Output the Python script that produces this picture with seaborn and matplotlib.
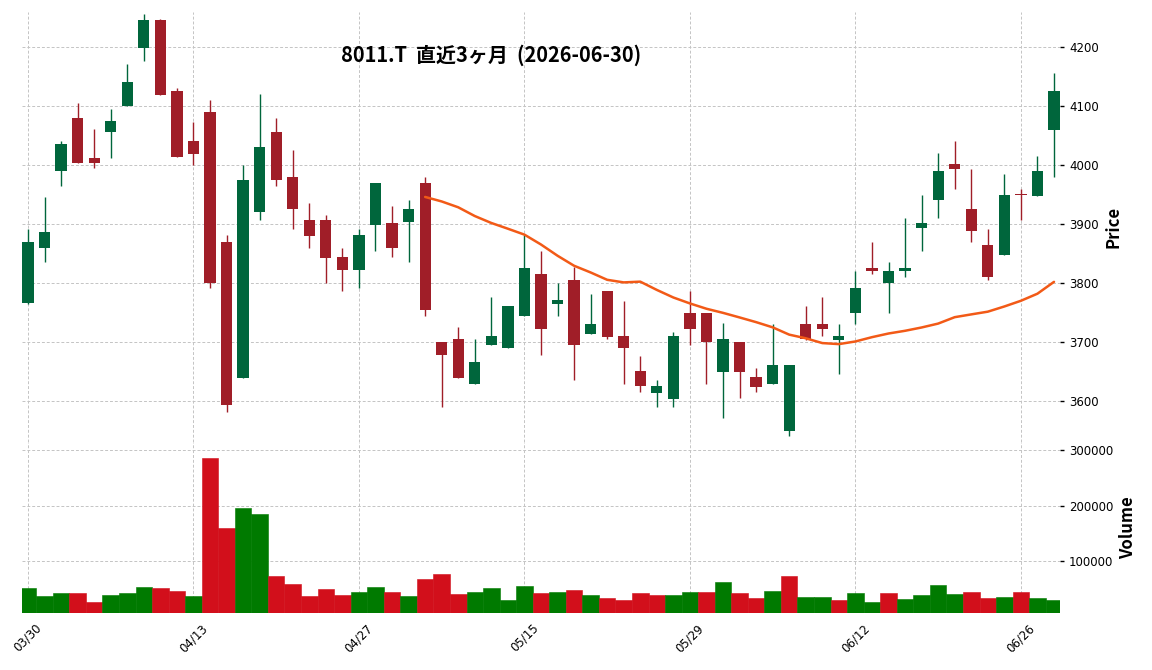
import numpy as np
import pandas as pd
import matplotlib
matplotlib.use("Agg")
import matplotlib.pyplot as plt
import seaborn as sns

# Trading days (TSE holidays removed)
holidays = ["2026-04-29", "2026-05-04", "2026-05-05", "2026-05-06"]
dates = pd.bdate_range("2026-03-30", "2026-06-30", freq="C", holidays=holidays)

opens = [3766, 3859, 3989, 4080, 4011, 4055, 4099, 4198, 4246, 4126,
         4041, 4090, 3870, 3639, 3921, 4056, 3980, 3906, 3906, 3845,
         3823, 3899, 3901, 3904, 3970, 3701, 3705, 3629, 3695, 3690,
         3744, 3816, 3764, 3806, 3713, 3786, 3710, 3651, 3614, 3603,
         3750, 3750, 3649, 3701, 3641, 3629, 3549, 3730, 3730, 3703,
         3749, 3825, 3800, 3820, 3894, 3940, 4001, 3926, 3865, 3848,
         3951, 3948, 4060]
highs = [3891, 3946, 4041, 4105, 4061, 4095, 4171, 4256, 4247, 4131,
         4073, 4110, 3881, 4000, 4121, 4080, 4026, 3936, 3916, 3860,
         3891, 3970, 3931, 3941, 3980, 3701, 3725, 3705, 3776, 3761,
         3882, 3855, 3801, 3828, 3781, 3786, 3769, 3676, 3636, 3718,
         3786, 3750, 3733, 3701, 3656, 3730, 3661, 3761, 3776, 3730,
         3820, 3870, 3835, 3911, 3950, 4021, 4041, 3994, 3891, 3985,
         3960, 4016, 4156]
lows = [3765, 3835, 3965, 4004, 3995, 4011, 4099, 4176, 4119, 4014,
        4000, 3791, 3581, 3639, 3906, 3965, 3891, 3860, 3801, 3786,
        3791, 3855, 3845, 3835, 3744, 3590, 3639, 3629, 3695, 3690,
        3744, 3679, 3744, 3636, 3713, 3705, 3630, 3615, 3590, 3590,
        3695, 3630, 3571, 3605, 3615, 3629, 3541, 3703, 3710, 3646,
        3730, 3816, 3749, 3811, 3855, 3911, 3960, 3870, 3806, 3848,
        3906, 3948, 3980]
closes = [3870, 3886, 4036, 4004, 4004, 4075, 4141, 4246, 4119, 4014,
          4019, 3800, 3593, 3975, 4031, 3974, 3925, 3879, 3843, 3823,
          3881, 3970, 3859, 3926, 3754, 3679, 3639, 3666, 3710, 3761,
          3825, 3723, 3771, 3695, 3730, 3708, 3690, 3625, 3625, 3710,
          3723, 3700, 3705, 3649, 3624, 3661, 3661, 3705, 3723, 3710,
          3791, 3821, 3821, 3825, 3901, 3990, 3994, 3889, 3810, 3950,
          3949, 3990, 4126]
volumes = [52800, 36900, 42200, 42200, 26300, 38600, 42200, 54600, 52800, 47500,
           36900, 286400, 160800, 196200, 185500, 74000, 59900, 36900, 51000, 38600,
           44000, 54600, 45700, 36900, 68700, 77600, 40400, 44000, 52800, 29800,
           56300, 42200, 45700, 49300, 38600, 33300, 29800, 42200, 38600, 38600,
           45700, 44000, 63400, 42200, 33300, 47500, 74000, 35100, 35100, 29800,
           42200, 26300, 42200, 31600, 38600, 58100, 40400, 44000, 33300, 35100,
           45700, 33300, 29800]

title = "8011.T  直近3ヶ月  (2026-06-30)"

df = pd.DataFrame({"Open": opens, "High": highs, "Low": lows,
                   "Close": closes, "Volume": volumes}, index=dates)
df["MA25"] = df["Close"].rolling(25).mean()

candle_up, candle_down = "#00663c", "#a01e28"
vol_up, vol_down = "#007a00", "#d20f1b"

sns.set_theme(style="white")
plt.rcParams["font.family"] = ["Noto Sans CJK JP", "DejaVu Sans"]
plt.rcParams.update({"text.color": "black", "axes.labelcolor": "black",
                     "xtick.color": "black", "ytick.color": "black"})

fig = plt.figure(figsize=(11.52, 6.7), dpi=100)
ax = fig.add_axes([0.0191, 0.3403, 0.9010, 0.6418])
axv = fig.add_axes([0.0191, 0.0858, 0.9010, 0.2545], sharex=ax)

x = np.arange(len(df))
o, h, l, c = df["Open"].values, df["High"].values, df["Low"].values, df["Close"].values
ccol = np.where(c > o, candle_up, candle_down)

# candles
ax.vlines(x, l, h, colors=ccol, linewidth=1.0, zorder=2)
body = np.maximum(np.abs(c - o), 1.5)
ax.bar(x, body, bottom=np.minimum(o, c), width=0.68, color=ccol,
       linewidth=0, zorder=3)

# moving average
ma = df["MA25"].dropna()
sns.lineplot(x=x[24:], y=ma.values, ax=ax, color="#f25a17", linewidth=1.8, zorder=4)

# volume, coloured by change from previous close
prev = np.concatenate([[o[0]], c[:-1]])
vcol = np.where(c > prev, vol_up, vol_down)
axv.bar(x, df["Volume"].values, width=1.0, color=vcol, edgecolor=vcol,
        linewidth=0.4, zorder=3)

for a in (ax, axv):
    a.grid(True, color="#c4c4c4", linestyle=(0, (3, 2)), linewidth=0.7)
    a.set_axisbelow(True)
    for s in a.spines.values():
        s.set_visible(False)
    a.yaxis.tick_right()
    a.yaxis.set_label_position("right")
    a.tick_params(axis="y", length=3, width=1, pad=3.5)

ax.set_xlim(-0.36, 62.36)
ax.set_ylim(3531, 4259)
ax.set_yticks(range(3600, 4201, 100))
ax.tick_params(axis="x", bottom=False, labelbottom=False)
ax.set_ylabel("Price", fontsize=12, fontweight="bold")

axv.set_ylim(0.3 * min(volumes), 1.1 * max(volumes))
axv.set_yticks([100000, 200000, 300000])
axv.set_yticklabels(["100000", "200000", "300000"])
axv.set_xticks(x[::10])
axv.set_xticklabels(df.index[::10].strftime("%m/%d"), rotation=45)
axv.tick_params(axis="x", length=3, width=1, pad=3.5)
axv.set_ylabel("Volume", fontsize=12, fontweight="bold")

for a in (ax, axv):
    for t in a.get_xticklabels() + a.get_yticklabels():
        t.set_fontfamily("DejaVu Sans")
        t.set_fontsize(8.5)

fig.text(491 / 1152, 1 - 55 / 670, title, ha="center", va="center",
         fontsize=14.4, fontweight="bold")

fig.savefig("out.png", dpi=100)
